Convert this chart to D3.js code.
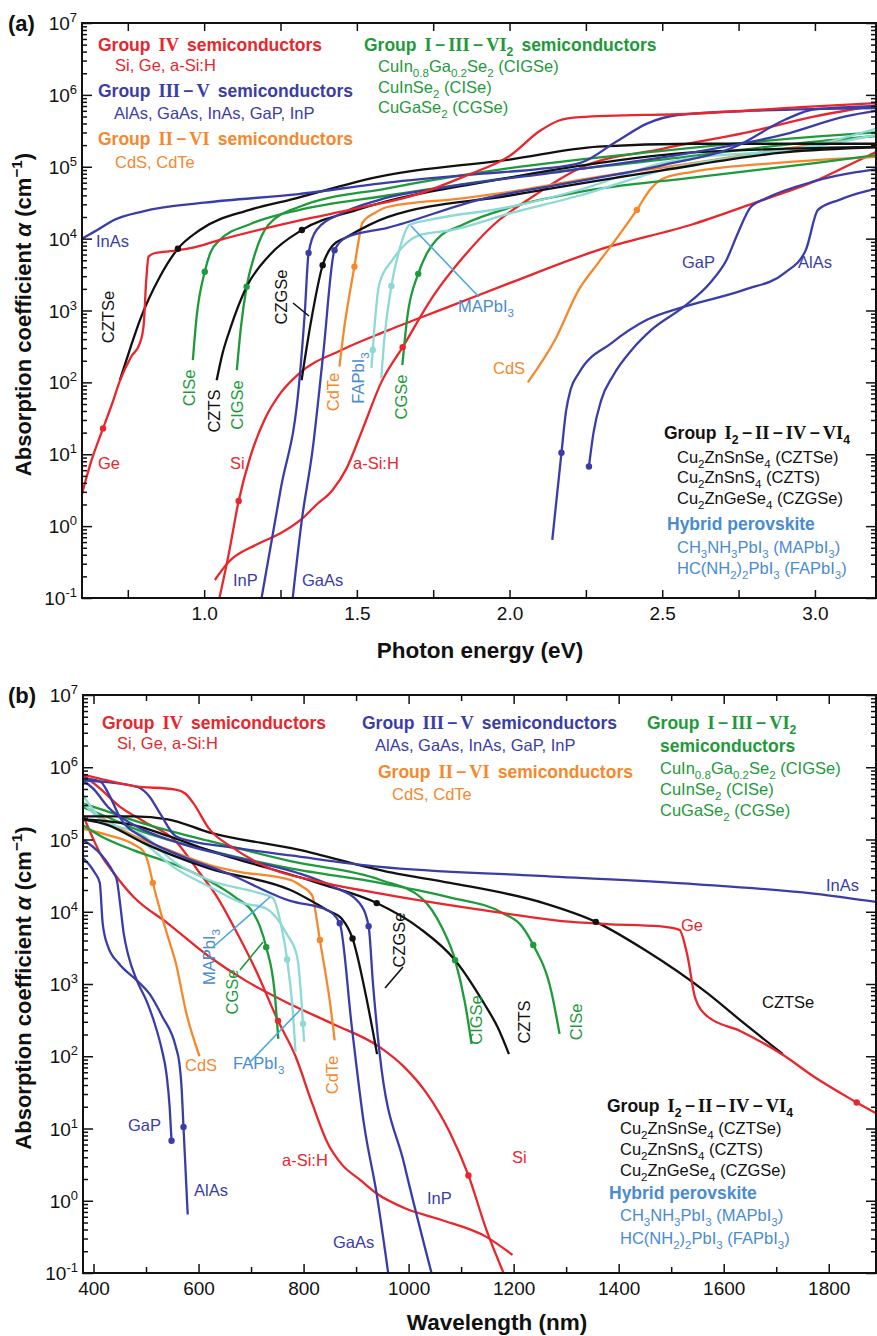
<!DOCTYPE html>
<html>
<head>
<meta charset="utf-8">
<script src="https://cdn.jsdelivr.net/npm/d3@7"></script>
<style>
  body { margin: 0; background: #fff; }
  svg { display: block; font-family: 'Liberation Sans', Arial, sans-serif; }
</style>
</head>
<body>
<div id="chart"></div>
<script>
// curves: [photon energy (eV), log10 of alpha (cm^-1)]
const Ge = [[0.6,0.45],[0.63,0.9],[0.669,1.36],[0.7,1.72],[0.724,2.02],[0.76,2.35],[0.79,2.55],[0.802,2.8],[0.81,3.4],[0.818,3.75],[0.84,3.8],[0.9,3.83],[0.96,3.87],[1.05,3.98],[1.31,4.25],[1.5,4.42],[1.7,4.62],[1.86,4.88],[2.0,5.15],[2.1,5.5],[2.16,5.64],[2.23,5.69],[2.6,5.74],[3.0,5.84],[3.27,5.9]];
const Si = [[1.05,-1],[1.08,-0.4],[1.113,0.35],[1.15,0.95],[1.2,1.5],[1.25,1.85],[1.31,2.12],[1.45,2.45],[1.6,2.72],[1.8,3.05],[2.0,3.38],[2.29,3.84],[2.6,4.2],[2.83,4.54],[3.0,4.8],[3.1,5.0],[3.27,5.35]];
const aSiH = [[1.035,-0.75],[1.08,-0.5],[1.17,-0.26],[1.25,-0.1],[1.32,0.1],[1.366,0.29],[1.42,0.5],[1.466,0.8],[1.518,1.34],[1.58,2.0],[1.65,2.49],[1.75,3.2],[1.85,3.75],[1.95,4.2],[2.06,4.54],[2.23,4.98],[2.5,5.25],[2.77,5.47],[3.0,5.7],[3.27,5.9]];
const InAs = [[0.6,4.0],[0.65,4.12],[0.7,4.25],[0.8,4.38],[1.0,4.5],[1.31,4.62],[1.6,4.78],[1.9,4.9],[2.1,4.97],[2.23,5.05],[2.35,5.35],[2.45,5.6],[2.55,5.72],[2.8,5.78],[3.27,5.82]];
const InP = [[1.188,-1],[1.25,0.5],[1.312,2.03],[1.33,3.0],[1.342,3.8],[1.368,4.12],[1.45,4.35],[1.574,4.54],[1.8,4.72],[2.2,4.95],[2.6,5.2],[2.9,5.45],[3.1,5.7],[3.27,5.82]];
const GaAs = [[1.29,-1],[1.32,0.09],[1.355,1.06],[1.39,2.4],[1.427,3.84],[1.466,4.02],[1.6,4.15],[1.9,4.54],[2.2,4.78],[2.5,5.02],[2.75,5.3],[2.9,5.65],[3.0,5.8],[3.27,5.85]];
const GaP = [[2.26,0.83],[2.275,1.3],[2.3,1.75],[2.34,2.1],[2.4,2.45],[2.47,2.75],[2.57,3.05],[2.66,3.4],[2.71,3.7],[2.75,4.1],[2.79,4.44],[2.84,4.56],[3.0,4.8],[3.27,5.0]];
const AlAs = [[2.14,-0.19],[2.17,1.02],[2.185,1.6],[2.2,1.9],[2.227,2.13],[2.335,2.55],[2.45,2.87],[2.57,3.05],[2.77,3.29],[2.9,3.52],[2.97,3.84],[3.01,4.4],[3.08,4.54],[3.27,4.75]];
const CdTe = [[1.443,2.22],[1.46,2.8],[1.475,3.2],[1.492,3.61],[1.505,3.95],[1.518,4.22],[1.56,4.36],[1.6,4.44],[1.845,4.56],[2.0,4.65],[2.29,4.86],[2.6,5.05],[2.9,5.25],[3.27,5.48]];
const CdS = [[2.06,2.0],[2.15,2.6],[2.227,3.29],[2.29,3.66],[2.35,4.0],[2.417,4.4],[2.46,4.68],[2.5,4.83],[2.6,4.93],[2.9,5.06],[3.27,5.15]];
const CISe = [[0.963,2.31],[0.975,2.9],[1.002,3.54],[1.02,3.8],[1.051,3.98],[1.15,4.2],[1.312,4.4],[1.6,4.6],[2.0,4.85],[2.5,5.1],[3.0,5.35],[3.27,5.45]];
const CIGSe = [[1.107,2.17],[1.12,2.75],[1.139,3.33],[1.165,3.77],[1.21,4.19],[1.31,4.44],[1.6,4.7],[2.0,4.98],[2.5,5.22],[3.0,5.42],[3.27,5.5]];
const CGSe = [[1.649,2.24],[1.665,2.9],[1.701,3.51],[1.73,3.8],[1.76,3.98],[1.85,4.2],[2.008,4.44],[2.23,4.65],[2.6,4.85],[3.0,5.05],[3.27,5.2]];
const CZTSe = [[0.724,2.03],[0.76,2.5],[0.79,2.87],[0.855,3.47],[0.914,3.86],[0.986,4.12],[1.149,4.4],[1.28,4.54],[1.57,4.86],[2.0,5.1],[2.29,5.28],[2.6,5.32],[3.27,5.32]];
const CZTS = [[1.041,2.03],[1.06,2.4],[1.084,2.73],[1.139,3.33],[1.214,3.77],[1.32,4.12],[1.5,4.4],[2.0,4.85],[2.29,5.05],[2.6,5.2],[3.27,5.28]];
const CZGSe = [[1.319,2.03],[1.35,2.85],[1.388,3.63],[1.42,3.9],[1.466,4.02],[1.6,4.3],[2.0,4.6],[2.5,4.95],[2.9,5.2],[3.27,5.28]];
const MAPbI3 = [[1.58,2.06],[1.59,2.6],[1.613,3.34],[1.639,3.84],[1.672,4.19],[1.737,4.26],[2.0,4.44],[2.23,4.68],[2.5,5.05],[3.0,5.3],[3.27,5.62]];
const FAPbI3 = [[1.548,2.2],[1.552,2.45],[1.574,3.38],[1.616,3.7],[1.705,4.05],[1.812,4.12],[2.0,4.35],[2.23,4.6],[2.5,4.95],[3.0,5.28],[3.27,5.5]];

// dots on the curves: [name, eV, log10 alpha]
const dots = [['Ge',0.669,1.36],['Si',1.113,0.35],['aSiH',1.65,2.49],['InP',1.342,3.8],['GaAs',1.427,3.84],
  ['CdTe',1.492,3.61],['CdS',2.417,4.4],['AlAs',2.17,1.02],['GaP',2.26,0.83],['CISe',1.002,3.54],
  ['CIGSe',1.139,3.33],['CGSe',1.701,3.51],['CZTSe',0.914,3.86],['CZTS',1.32,4.12],['CZGSe',1.388,3.63],
  ['MAPbI3',1.613,3.34],['FAPbI3',1.552,2.45]];

const energyTicks = [0.75,1.0,1.25,1.5,1.75,2.0,2.25,2.5,2.75,3.0];
const energyLabels = [1.0,1.5,2.0,2.5,3.0];
const wlTicks = [400,500,600,700,800,900,1000,1100,1200,1300,1400,1500,1600,1700,1800];
const wlLabels = [400,600,800,1000,1200,1400,1600,1800];
const decades = [-1,0,1,2,3,4,5,6,7];

const RED = '#e8262b', BLUE = '#3a3da8', ORANGE = '#f6882c', GREEN = '#1d9a3a',
  BLACK = '#111', CYAN = '#8dd9d5', PEROV = '#4a8bd0';

const series = [
  {name:'aSiH', pts:aSiH, color:RED}, {name:'Si', pts:Si, color:RED},
  {name:'CdS', pts:CdS, color:ORANGE}, {name:'CdTe', pts:CdTe, color:ORANGE},
  {name:'CGSe', pts:CGSe, color:GREEN}, {name:'CIGSe', pts:CIGSe, color:GREEN}, {name:'CISe', pts:CISe, color:GREEN},
  {name:'FAPbI3', pts:FAPbI3, color:CYAN}, {name:'MAPbI3', pts:MAPbI3, color:CYAN},
  {name:'CZGSe', pts:CZGSe, color:BLACK}, {name:'CZTS', pts:CZTS, color:BLACK}, {name:'CZTSe', pts:CZTSe, color:BLACK},
  {name:'AlAs', pts:AlAs, color:BLUE}, {name:'GaP', pts:GaP, color:BLUE},
  {name:'GaAs', pts:GaAs, color:BLUE}, {name:'InP', pts:InP, color:BLUE}, {name:'InAs', pts:InAs, color:BLUE},
  {name:'Ge', pts:Ge, color:RED}
];
const colorOf = {};
series.forEach(s => colorOf[s.name] = s.color);

const HC = 1239.84;
const W = 877, H = 1336;

const svg = d3.select('#chart').append('svg')
  .attr('width', W).attr('height', H);

// text with _{sub} ^{sup} ~{roman numeral} *{italic}
function rich(sel, str, size) {
  const parts = str.split(/([_^~*]\{[^}]*\})/).filter(s => s.length);
  let shift = 0, pad = 0;
  parts.forEach(p => {
    const m = p.match(/^([_^~*])\{([^}]*)\}$/);
    const t = sel.append('tspan');
    let target = 0, dx = 0;
    if (m) {
      t.text(m[2]);
      if (m[1] === '_') { target = 0.28 * size; t.attr('font-size', size * 0.7); }
      if (m[1] === '^') { target = -0.4 * size; t.attr('font-size', size * 0.7); }
      if (m[1] === '~') {
        t.attr('font-family', "'Liberation Serif', serif").attr('font-size', size * 1.05);
        dx = pad + size * 0.18; pad = size * 0.18;
      } else if (m[1] === '*') {
        t.attr('font-style', 'italic');
        dx = pad; pad = 0;
      }
      // subscripts keep the pending gap for after themselves
    } else {
      t.text(p);
      dx = pad; pad = 0;
    }
    if (dx) t.attr('dx', dx);
    if (target !== shift) t.attr('dy', target - shift);
    shift = target;
  });
}

function label(g, str, x, y, opt) {
  const o = Object.assign({size:17, color:BLACK, weight:'normal', rotate:0, anchor:'start'}, opt || {});
  const t = g.append('text')
    .attr('font-size', o.size).attr('fill', o.color).attr('font-weight', o.weight)
    .attr('text-anchor', o.anchor);
  if (o.rotate) t.attr('transform', 'translate(' + x + ',' + y + ') rotate(' + o.rotate + ')');
  else t.attr('x', x).attr('y', y);
  rich(t, str, o.size);
  return t;
}

function drawPanel(p) {
  const g = svg.append('g');
  const x = d3.scaleLinear().domain(p.domain).range([p.left, p.right]);
  const y = d3.scaleLog().domain([1e-1, 1e7]).range([p.bottom, p.top]);

  svg.append('clipPath').attr('id', 'clip-' + p.id)
    .append('rect').attr('x', p.left).attr('y', p.top)
    .attr('width', p.right - p.left).attr('height', p.bottom - p.top);

  const line = d3.line()
    .x(d => x(d[0]))
    .y(d => y(Math.pow(10, d[1])))
    .curve(d3.curveMonotoneX);

  const plot = g.append('g').attr('clip-path', 'url(#clip-' + p.id + ')');

  series.forEach(s => {
    const pts = s.pts.map(d => [p.conv(d[0]), d[1]]).sort((a, b) => a[0] - b[0]);
    plot.append('path')
      .attr('d', line(pts))
      .attr('fill', 'none')
      .attr('stroke', s.color)
      .attr('stroke-width', 2.3)
      .attr('stroke-linejoin', 'round');
  });

  plot.selectAll('.dot').data(dots).enter().append('circle')
    .attr('cx', d => x(p.conv(d[1])))
    .attr('cy', d => y(Math.pow(10, d[2])))
    .attr('r', 3.2)
    .attr('fill', d => colorOf[d[0]]);

  // axes, ticks pointing inward
  const majorY = decades.map(d => Math.pow(10, d));
  const minorY = [];
  decades.slice(0, -1).forEach(d => { for (let k = 2; k < 10; k++) minorY.push(k * Math.pow(10, d)); });

  const fmtX = d => p.labels.indexOf(d) >= 0 ? p.fmt(d) : '';

  const axB = g.append('g').attr('transform', 'translate(0,' + p.bottom + ')')
    .call(d3.axisBottom(x).tickValues(p.ticks).tickSize(-p.tick).tickPadding(9).tickFormat(fmtX));
  g.append('g').attr('transform', 'translate(0,' + p.top + ')')
    .call(d3.axisTop(x).tickValues(p.ticks).tickSize(-p.tick).tickFormat(''));
  if (p.minorTicks) {
    g.append('g').attr('transform', 'translate(0,' + p.bottom + ')')
      .call(d3.axisBottom(x).tickValues(p.minorTicks).tickSize(-6).tickFormat(''));
    g.append('g').attr('transform', 'translate(0,' + p.top + ')')
      .call(d3.axisTop(x).tickValues(p.minorTicks).tickSize(-6).tickFormat(''));
  }
  g.append('g').attr('transform', 'translate(' + p.left + ',0)')
    .call(d3.axisLeft(y).tickValues(majorY).tickSize(-10).tickFormat(''));
  g.append('g').attr('transform', 'translate(' + p.left + ',0)')
    .call(d3.axisLeft(y).tickValues(minorY).tickSize(-5).tickFormat(''));
  g.append('g').attr('transform', 'translate(' + p.right + ',0)')
    .call(d3.axisRight(y).tickValues(majorY).tickSize(-10).tickFormat(''));
  g.append('g').attr('transform', 'translate(' + p.right + ',0)')
    .call(d3.axisRight(y).tickValues(minorY).tickSize(-5).tickFormat(''));

  g.selectAll('.domain').remove();
  g.selectAll('.tick line').attr('stroke', '#111').attr('stroke-width', 1.5);
  axB.selectAll('text').attr('font-size', 19).attr('fill', '#111')
    .attr('font-family', "'Liberation Sans', Arial, sans-serif");

  // y tick labels 10^n
  majorY.forEach(v => {
    const t = g.append('text')
      .attr('x', p.left - 5).attr('y', y(v) + 7)
      .attr('text-anchor', 'end').attr('font-size', 19).attr('fill', '#111');
    t.append('tspan').text('10');
    t.append('tspan').attr('dy', -8).attr('font-size', 13).text(Math.round(Math.log10(v)));
  });

  g.append('rect')
    .attr('x', p.left).attr('y', p.top)
    .attr('width', p.right - p.left).attr('height', p.bottom - p.top)
    .attr('fill', 'none').attr('stroke', '#111').attr('stroke-width', 2);

  // axis titles
  label(g, 'Absorption coefficient *{α} (cm^{−1})', 31, (p.top + p.bottom) / 2 + 4,
    {size:22, weight:'bold', rotate:-90, anchor:'middle'});
  label(g, p.xTitle, p.xTitleX, p.xTitleY, {size:22.5, weight:'bold', anchor:'middle'});
  label(g, '(' + p.id + ')', 8, p.top + 8, {size:22, weight:'bold'});

  p.texts.forEach(t => label(g, t[0], t[1], t[2], t[3]));
  p.pointers.forEach(l => {
    g.append('line').attr('x1', l[0]).attr('y1', l[1]).attr('x2', l[2]).attr('y2', l[3])
      .attr('stroke', l[4]).attr('stroke-width', 1.6);
  });
}

const bold = (c) => ({size:17.5, weight:'bold', color:c});
const reg = (c) => ({size:16.5, color:c});
const rot = (c) => ({size:16.5, color:c, rotate:-90, anchor:'middle'});

drawPanel({
  id:'a', domain:[0.6, 3.2], left:82, right:876, top:23, bottom:598,
  conv: e => e, ticks: energyTicks, labels: energyLabels, fmt: d3.format('.1f'), tick:8,
  xTitle:'Photon energy (eV)', xTitleX:480, xTitleY:658,
  texts: [
    ['Group ~{IV} semiconductors', 98, 51, bold(RED)],
    ['Si, Ge, a-Si:H', 115, 71, reg(RED)],
    ['Group ~{III}−~{V} semiconductors', 98, 97, bold(BLUE)],
    ['AlAs, GaAs, InAs, GaP, InP', 114, 119, reg(BLUE)],
    ['Group ~{II}−~{VI} semiconductors', 98, 145, bold(ORANGE)],
    ['CdS, CdTe', 115, 168, reg(ORANGE)],
    ['Group ~{I}−~{III}−~{VI}_{2} semiconductors', 364, 51, bold(GREEN)],
    ['CuIn_{0.8}Ga_{0.2}Se_{2} (CIGSe)', 378, 72, reg(GREEN)],
    ['CuInSe_{2} (CISe)', 378, 93, reg(GREEN)],
    ['CuGaSe_{2} (CGSe)', 378, 113, reg(GREEN)],
    ['Group ~{I}_{2}−~{II}−~{IV}−~{VI}_{4}', 664, 439, bold(BLACK)],
    ['Cu_{2}ZnSnSe_{4} (CZTSe)', 677, 463, reg(BLACK)],
    ['Cu_{2}ZnSnS_{4} (CZTS)', 677, 483, reg(BLACK)],
    ['Cu_{2}ZnGeSe_{4} (CZGSe)', 677, 504, reg(BLACK)],
    ['Hybrid perovskite', 667, 530, bold(PEROV)],
    ['CH_{3}NH_{3}PbI_{3} (MAPbI_{3})', 677, 553, reg(PEROV)],
    ['HC(NH_{2})_{2}PbI_{3} (FAPbI_{3})', 677, 574, reg(PEROV)],
    ['InAs', 96, 247, reg(BLUE)],
    ['Ge', 98, 469, reg(RED)],
    ['Si', 230, 469, reg(RED)],
    ['InP', 233, 586, reg(BLUE)],
    ['GaAs', 302, 586, reg(BLUE)],
    ['a-Si:H', 353, 469, reg(RED)],
    ['MAPbI_{3}', 458, 312, reg(PEROV)],
    ['CdS', 493, 374, reg(ORANGE)],
    ['GaP', 682, 268, reg(BLUE)],
    ['AlAs', 798, 268, reg(BLUE)],
    ['CZTSe', 114, 317, rot(BLACK)],
    ['CISe', 195, 388, rot(GREEN)],
    ['CZTS', 220, 411, rot(BLACK)],
    ['CIGSe', 243, 405, rot(GREEN)],
    ['CZGSe', 287, 297, rot(BLACK)],
    ['CdTe', 339, 392, rot(ORANGE)],
    ['FAPbI_{3}', 364, 378, rot(PEROV)],
    ['CGSe', 407, 397, rot(GREEN)]
  ],
  pointers: [[293, 303, 309, 316, BLACK], [479, 297, 411, 226, '#4aa9dc']]
});

drawPanel({
  id:'b', domain:[380, 1890], left:83, right:876, top:695, bottom:1273,
  conv: e => HC / e, ticks: wlLabels, minorTicks: wlTicks.filter(t => wlLabels.indexOf(t) < 0),
  labels: wlLabels, fmt: d3.format('d'), tick:9,
  xTitle:'Wavelength (nm)', xTitleX:497, xTitleY:1330,
  texts: [
    ['Group ~{IV} semiconductors', 102, 729, bold(RED)],
    ['Si, Ge, a-Si:H', 117, 749, reg(RED)],
    ['Group ~{III}−~{V} semiconductors', 362, 729, bold(BLUE)],
    ['AlAs, GaAs, InAs, GaP, InP', 375, 751, reg(BLUE)],
    ['Group ~{II}−~{VI} semiconductors', 378, 778, bold(ORANGE)],
    ['CdS, CdTe', 392, 800, reg(ORANGE)],
    ['Group ~{I}−~{III}−~{VI}_{2}', 647, 729, bold(GREEN)],
    ['semiconductors', 660, 752, bold(GREEN)],
    ['CuIn_{0.8}Ga_{0.2}Se_{2} (CIGSe)', 660, 774, reg(GREEN)],
    ['CuInSe_{2} (CISe)', 660, 795, reg(GREEN)],
    ['CuGaSe_{2} (CGSe)', 660, 816, reg(GREEN)],
    ['Group ~{I}_{2}−~{II}−~{IV}−~{VI}_{4}', 607, 1112, bold(BLACK)],
    ['Cu_{2}ZnSnSe_{4} (CZTSe)', 620, 1134, reg(BLACK)],
    ['Cu_{2}ZnSnS_{4} (CZTS)', 620, 1155, reg(BLACK)],
    ['Cu_{2}ZnGeSe_{4} (CZGSe)', 620, 1176, reg(BLACK)],
    ['Hybrid perovskite', 609, 1199, bold(PEROV)],
    ['CH_{3}NH_{3}PbI_{3} (MAPbI_{3})', 620, 1221, reg(PEROV)],
    ['HC(NH_{2})_{2}PbI_{3} (FAPbI_{3})', 620, 1244, reg(PEROV)],
    ['InAs', 826, 891, reg(BLUE)],
    ['Ge', 681, 931, reg(RED)],
    ['CZTSe', 762, 1008, reg(BLACK)],
    ['GaP', 128, 1131, reg(BLUE)],
    ['AlAs', 194, 1196, reg(BLUE)],
    ['a-Si:H', 282, 1166, reg(RED)],
    ['GaAs', 333, 1248, reg(BLUE)],
    ['InP', 427, 1204, reg(BLUE)],
    ['Si', 512, 1163, reg(RED)],
    ['CdS', 185, 1071, reg(ORANGE)],
    ['FAPbI_{3}', 233, 1069, reg(PEROV)],
    ['MAPbI_{3}', 215, 957, rot(PEROV)],
    ['CGSe', 238, 992, rot(GREEN)],
    ['CdTe', 338, 1075, rot(ORANGE)],
    ['CZGSe', 405, 940, rot(BLACK)],
    ['CIGSe', 482, 1020, rot(GREEN)],
    ['CZTS', 530, 1022, rot(BLACK)],
    ['CISe', 582, 1022, rot(GREEN)]
  ],
  pointers: [[212, 948, 270, 897, '#4aa9dc'], [240, 970, 263, 942, GREEN], [250, 1062, 300, 1010, '#4aa9dc'], [403, 967, 385, 988, BLACK]]
});
</script>
</body>
</html>
